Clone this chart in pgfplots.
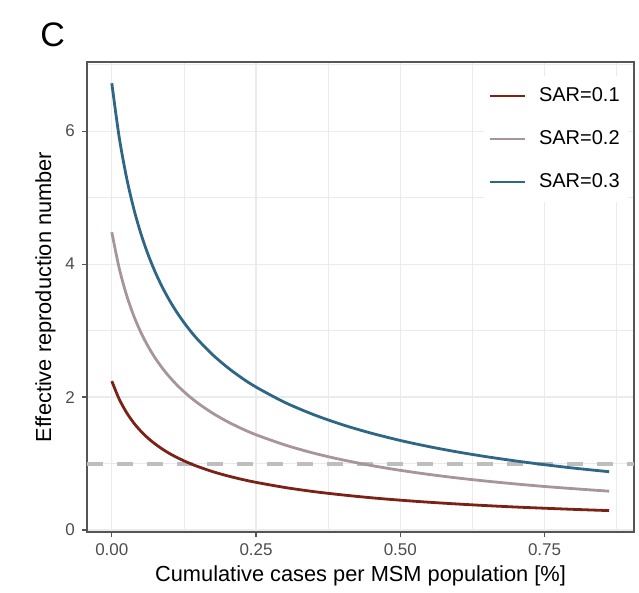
\documentclass[border=0pt]{standalone}
\usepackage{fontspec}
\setmainfont{Liberation Sans}
\usepackage{pgfplots}
\usepackage{pgfplotstable}
\pgfplotsset{compat=1.18}
\usetikzlibrary{calc}

\definecolor{sarred}{HTML}{7A2216}
\definecolor{sarmauve}{HTML}{A8959B}
\definecolor{sarblue}{HTML}{2E6785}
\definecolor{gridc}{HTML}{EBEBEB}
\definecolor{framec}{HTML}{555555}
\definecolor{tickc}{HTML}{4D4D4D}
\definecolor{dashc}{HTML}{BEBEBE}

% cumulative cases [%] vs effective reproduction number
\pgfplotstableread{
x       r1     r2     r3
0.0000  2.240  4.480  6.720
0.0125  1.975  3.950  5.925
0.0250  1.775  3.549  5.324
0.0375  1.617  3.234  4.851
0.0500  1.490  2.979  4.469
0.0625  1.384  2.768  4.152
0.0750  1.295  2.589  3.884
0.0875  1.218  2.436  3.654
0.1000  1.151  2.303  3.454
0.1125  1.093  2.185  3.278
0.1250  1.041  2.081  3.122
0.1375  0.994  1.988  2.981
0.1500  0.952  1.903  2.855
0.1750  0.878  1.756  2.635
0.2000  0.816  1.632  2.449
0.2250  0.763  1.526  2.289
0.2500  0.717  1.433  2.150
0.3000  0.640  1.280  1.919
0.3500  0.578  1.156  1.735
0.4000  0.528  1.055  1.583
0.4500  0.485  0.970  1.456
0.5000  0.449  0.898  1.347
0.5500  0.418  0.836  1.254
0.6000  0.391  0.782  1.173
0.6500  0.367  0.735  1.102
0.7000  0.346  0.693  1.039
0.7500  0.328  0.655  0.983
0.8000  0.311  0.622  0.932
0.8620  0.292  0.584  0.877
}\reff

\begin{document}
\begin{tikzpicture}
\begin{axis}[
  width=273.5pt, height=235pt, scale only axis,
  xmin=-0.043, xmax=0.905, ymin=-0.03, ymax=7.04,
  xtick={0,0.25,0.5,0.75}, xticklabels={0.00,0.25,0.50,0.75},
  ytick={0,2,4,6},
  minor xtick={0.125,0.375,0.625,0.875}, minor ytick={1,3,5,7},
  grid=both,
  major grid style={color=gridc, line width=0.6pt},
  minor grid style={color=gridc, line width=0.35pt},
  axis line style={color=framec, line width=0.6pt},
  tick style={color=framec, line width=0.6pt},
  tick align=outside, major tick length=2.5pt, minor tick length=0pt,
  xtick pos=bottom, ytick pos=left,
  tick label style={font=\fontsize{8.5}{10}\selectfont, text=tickc},
  /pgf/number format/assume math mode=true,
  xlabel={Cumulative cases per MSM population [\%]},
  ylabel={Effective reproduction number},
  label style={font=\fontsize{10.9}{12}\selectfont},
  xlabel style={yshift=2pt},
  ylabel style={yshift=-2pt},
  legend cell align=left,
  legend style={at={(0.7255,0.972)}, anchor=north west, draw=none, fill=white,
    font=\fontsize{10}{12}\selectfont, row sep=9pt, inner xsep=2pt, inner ysep=4pt},
  legend image code/.code={\draw[#1] (0pt,0pt) -- (17.5pt,0pt); \path (22pt,0pt);},
]
\coordinate (sw) at (rel axis cs:0,0);
\coordinate (ne) at (rel axis cs:1,1);
\coordinate (nw) at (rel axis cs:0,1);
\addplot[dashc, line width=2pt, dash pattern=on 8pt off 7pt, forget plot]
  coordinates {(-0.043,1) (0.905,1)};
\addplot[sarred, line width=1.4pt, smooth] table[x=x, y=r1] {\reff};
\addplot[sarmauve, line width=1.4pt, smooth] table[x=x, y=r2] {\reff};
\addplot[sarblue, line width=1.4pt, smooth] table[x=x, y=r3] {\reff};
\legend{SAR=0.1, SAR=0.2, SAR=0.3}
\end{axis}
\node[anchor=base west, inner sep=0pt, font=\fontsize{17}{17}\selectfont]
  at ($(nw)+(-23.5pt,7.5pt)$) {C};
\pgfresetboundingbox
\path ($(sw)+(-43.5pt,-30pt)$) rectangle ($(ne)+(2.5pt,31pt)$);
\end{tikzpicture}
\end{document}
